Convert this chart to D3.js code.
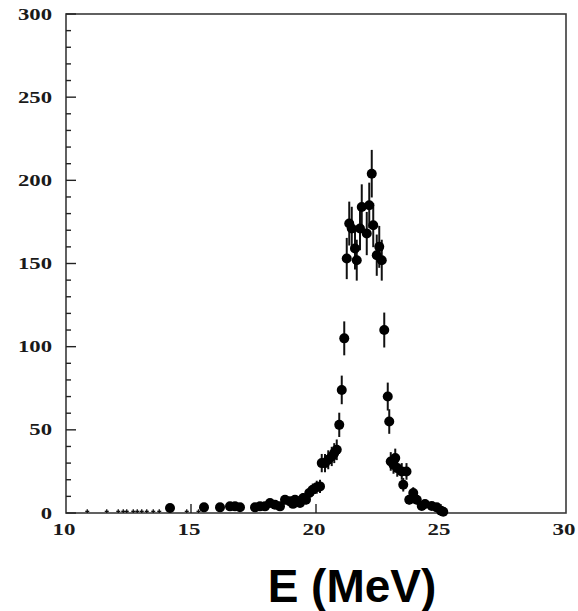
<!DOCTYPE html>
<html>
<head>
<meta charset="utf-8">
<script src="https://cdn.jsdelivr.net/npm/d3@7"></script>
<style>
  html, body { margin: 0; padding: 0; background: #fff; }
  svg { display: block; }
</style>
</head>
<body>
<script>
// Measured spectrum: energy (MeV), counts and statistical errors
const energy = [14.16, 15.52, 16.16, 16.56, 16.76, 16.96, 17.56, 17.76, 17.96, 18.16,
  18.36, 18.56, 18.76, 18.96, 19.08, 19.16, 19.29, 19.36, 19.49, 19.60,
  19.73, 19.87, 20.03, 20.16, 20.23, 20.36, 20.49, 20.63, 20.73, 20.83,
  20.93, 21.03, 21.13, 21.23, 21.33, 21.43, 21.56, 21.63, 21.76, 21.83,
  22.03, 22.13, 22.23, 22.29, 22.43, 22.53, 22.63, 22.73, 22.87, 22.93,
  22.99, 23.10, 23.17, 23.25, 23.43, 23.49, 23.62, 23.73, 23.89, 24.03,
  24.23, 24.36, 24.63, 24.83, 25.00, 25.09];
const counts = [3, 3.4, 3.4, 4, 4, 3.5, 3.4, 4, 4, 6,
  5, 4, 8, 7, 5.5, 8, 7, 6, 9, 8,
  12, 14, 15.5, 16, 30, 30, 32, 34, 36, 38,
  53, 74, 105, 153, 174, 171, 159, 152, 171, 184,
  168, 185, 204, 173, 155, 160, 152, 110, 70, 55,
  31, 29, 33, 27, 25, 17, 25, 8, 12, 8,
  4.2, 5.4, 4.2, 3.4, 1.4, 0.8];
const errors = [1.7, 1.8, 1.8, 2, 2, 1.9, 1.8, 2, 2, 2.4,
  2.2, 2, 2.8, 2.6, 2.3, 2.8, 2.6, 2.4, 3, 2.8,
  3.5, 3.7, 3.9, 4, 5.5, 5.5, 5.7, 5.8, 6, 6.2,
  7.3, 8.6, 10.2, 12.4, 13.2, 13.1, 12.6, 12.3, 13.1, 13.6,
  13, 13.6, 14.3, 13.2, 12.4, 12.6, 12.3, 10.5, 8.4, 7.4,
  5.6, 5.4, 5.7, 5.2, 5, 4.1, 5, 2.8, 3.5, 2.8,
  2, 2.3, 2, 1.8, 1.2, 0.9];

// Sparse low-energy bins, drawn as bare error crosses
const lowEnergy = [10.85, 11.63, 12.09, 12.29, 12.43, 12.69, 12.85, 13.03, 13.23, 13.49, 13.73, 14.83, 15.30];
const lowCounts = [1, 1, 1, 1, 1, 1, 1, 1, 1, 1, 1, 1, 1];
const lowErrors = [1.2, 1.2, 1.2, 1.2, 1.2, 1.2, 1.2, 1.2, 1.2, 1.2, 1.2, 1.2, 1.2];

const xTicks = [10, 15, 20, 25, 30];
const yTicks = [0, 50, 100, 150, 200, 250, 300];
const xLabel = "E (MeV)";

const W = 578, H = 611;
const frame = { left: 66, right: 566, top: 14, bottom: 513 };

const x = d3.scaleLinear().domain([10, 30]).range([frame.left, frame.right]);
const y = d3.scaleLinear().domain([0, 300]).range([frame.bottom, frame.top]);

const svg = d3.select("body").append("svg").attr("width", W).attr("height", H);

// frame
svg.append("rect")
  .attr("x", frame.left).attr("y", frame.top)
  .attr("width", frame.right - frame.left).attr("height", frame.bottom - frame.top)
  .attr("fill", "none").attr("stroke", "#3a3a3a").attr("stroke-width", 1.6);

// y ticks (inside): major every 50, minor every 10
const yMinor = d3.range(0, 301, 10).filter(v => v % 50 !== 0);
svg.append("g").selectAll("line").data(yTicks).join("line")
  .attr("x1", frame.left).attr("x2", frame.left + 10)
  .attr("y1", d => y(d)).attr("y2", d => y(d))
  .attr("stroke", "#222").attr("stroke-width", 1.4);
svg.append("g").selectAll("line").data(yMinor).join("line")
  .attr("x1", frame.left).attr("x2", frame.left + 5)
  .attr("y1", d => y(d)).attr("y2", d => y(d))
  .attr("stroke", "#222").attr("stroke-width", 1.4);

// x ticks (inside)
svg.append("g").selectAll("line").data(xTicks.slice(1, -1)).join("line")
  .attr("x1", d => x(d)).attr("x2", d => x(d))
  .attr("y1", frame.bottom).attr("y2", frame.bottom - 9)
  .attr("stroke", "#222").attr("stroke-width", 1.4);

// tick labels (wide serif)
const labFont = "'Liberation Serif', 'Times New Roman', serif";
svg.append("g").selectAll("g").data(yTicks).join("g")
  .attr("transform", d => `translate(52,${y(d) + 5.5}) scale(1.42,1)`)
  .append("text")
  .attr("text-anchor", "end")
  .attr("font-family", labFont).attr("font-size", 16).attr("font-weight", "bold")
  .attr("fill", "#1a1a1a")
  .text(d => d);

svg.append("g").selectAll("g").data(xTicks).join("g")
  .attr("transform", d => `translate(${x(d) - 2},535) scale(1.35,1)`)
  .append("text")
  .attr("text-anchor", "middle")
  .attr("font-family", labFont).attr("font-size", 17).attr("font-weight", "bold")
  .attr("fill", "#1a1a1a")
  .text(d => d);

// low-energy crosses
const lowPts = lowEnergy.map((e, i) => ({ e, c: lowCounts[i], s: lowErrors[i] }));
const lg = svg.append("g").attr("stroke", "#111").attr("stroke-width", 1.3);
lg.selectAll("line.v").data(lowPts).join("line").attr("class", "v")
  .attr("x1", d => x(d.e)).attr("x2", d => x(d.e))
  .attr("y1", d => y(d.c + d.s)).attr("y2", d => Math.min(frame.bottom, y(d.c - d.s)));
lg.selectAll("line.h").data(lowPts).join("line").attr("class", "h")
  .attr("x1", d => x(d.e) - 2).attr("x2", d => x(d.e) + 2)
  .attr("y1", d => y(d.c)).attr("y2", d => y(d.c));

// main points with error bars
const pts = energy.map((e, i) => ({ e, c: counts[i], s: errors[i] }));
svg.append("g").selectAll("line").data(pts).join("line")
  .attr("x1", d => x(d.e)).attr("x2", d => x(d.e))
  .attr("y1", d => y(d.c + d.s)).attr("y2", d => Math.min(frame.bottom, y(d.c - d.s)))
  .attr("stroke", "#111").attr("stroke-width", 2);
svg.append("g").selectAll("circle").data(pts).join("circle")
  .attr("cx", d => x(d.e)).attr("cy", d => y(d.c)).attr("r", 5)
  .attr("fill", "#000");

// axis title
svg.append("text")
  .attr("x", 352).attr("y", 602)
  .attr("text-anchor", "middle")
  .attr("font-family", "'Liberation Sans', Arial, sans-serif")
  .attr("font-weight", "bold").attr("font-size", 46)
  .attr("fill", "#000")
  .text(xLabel);
</script>
</body>
</html>
